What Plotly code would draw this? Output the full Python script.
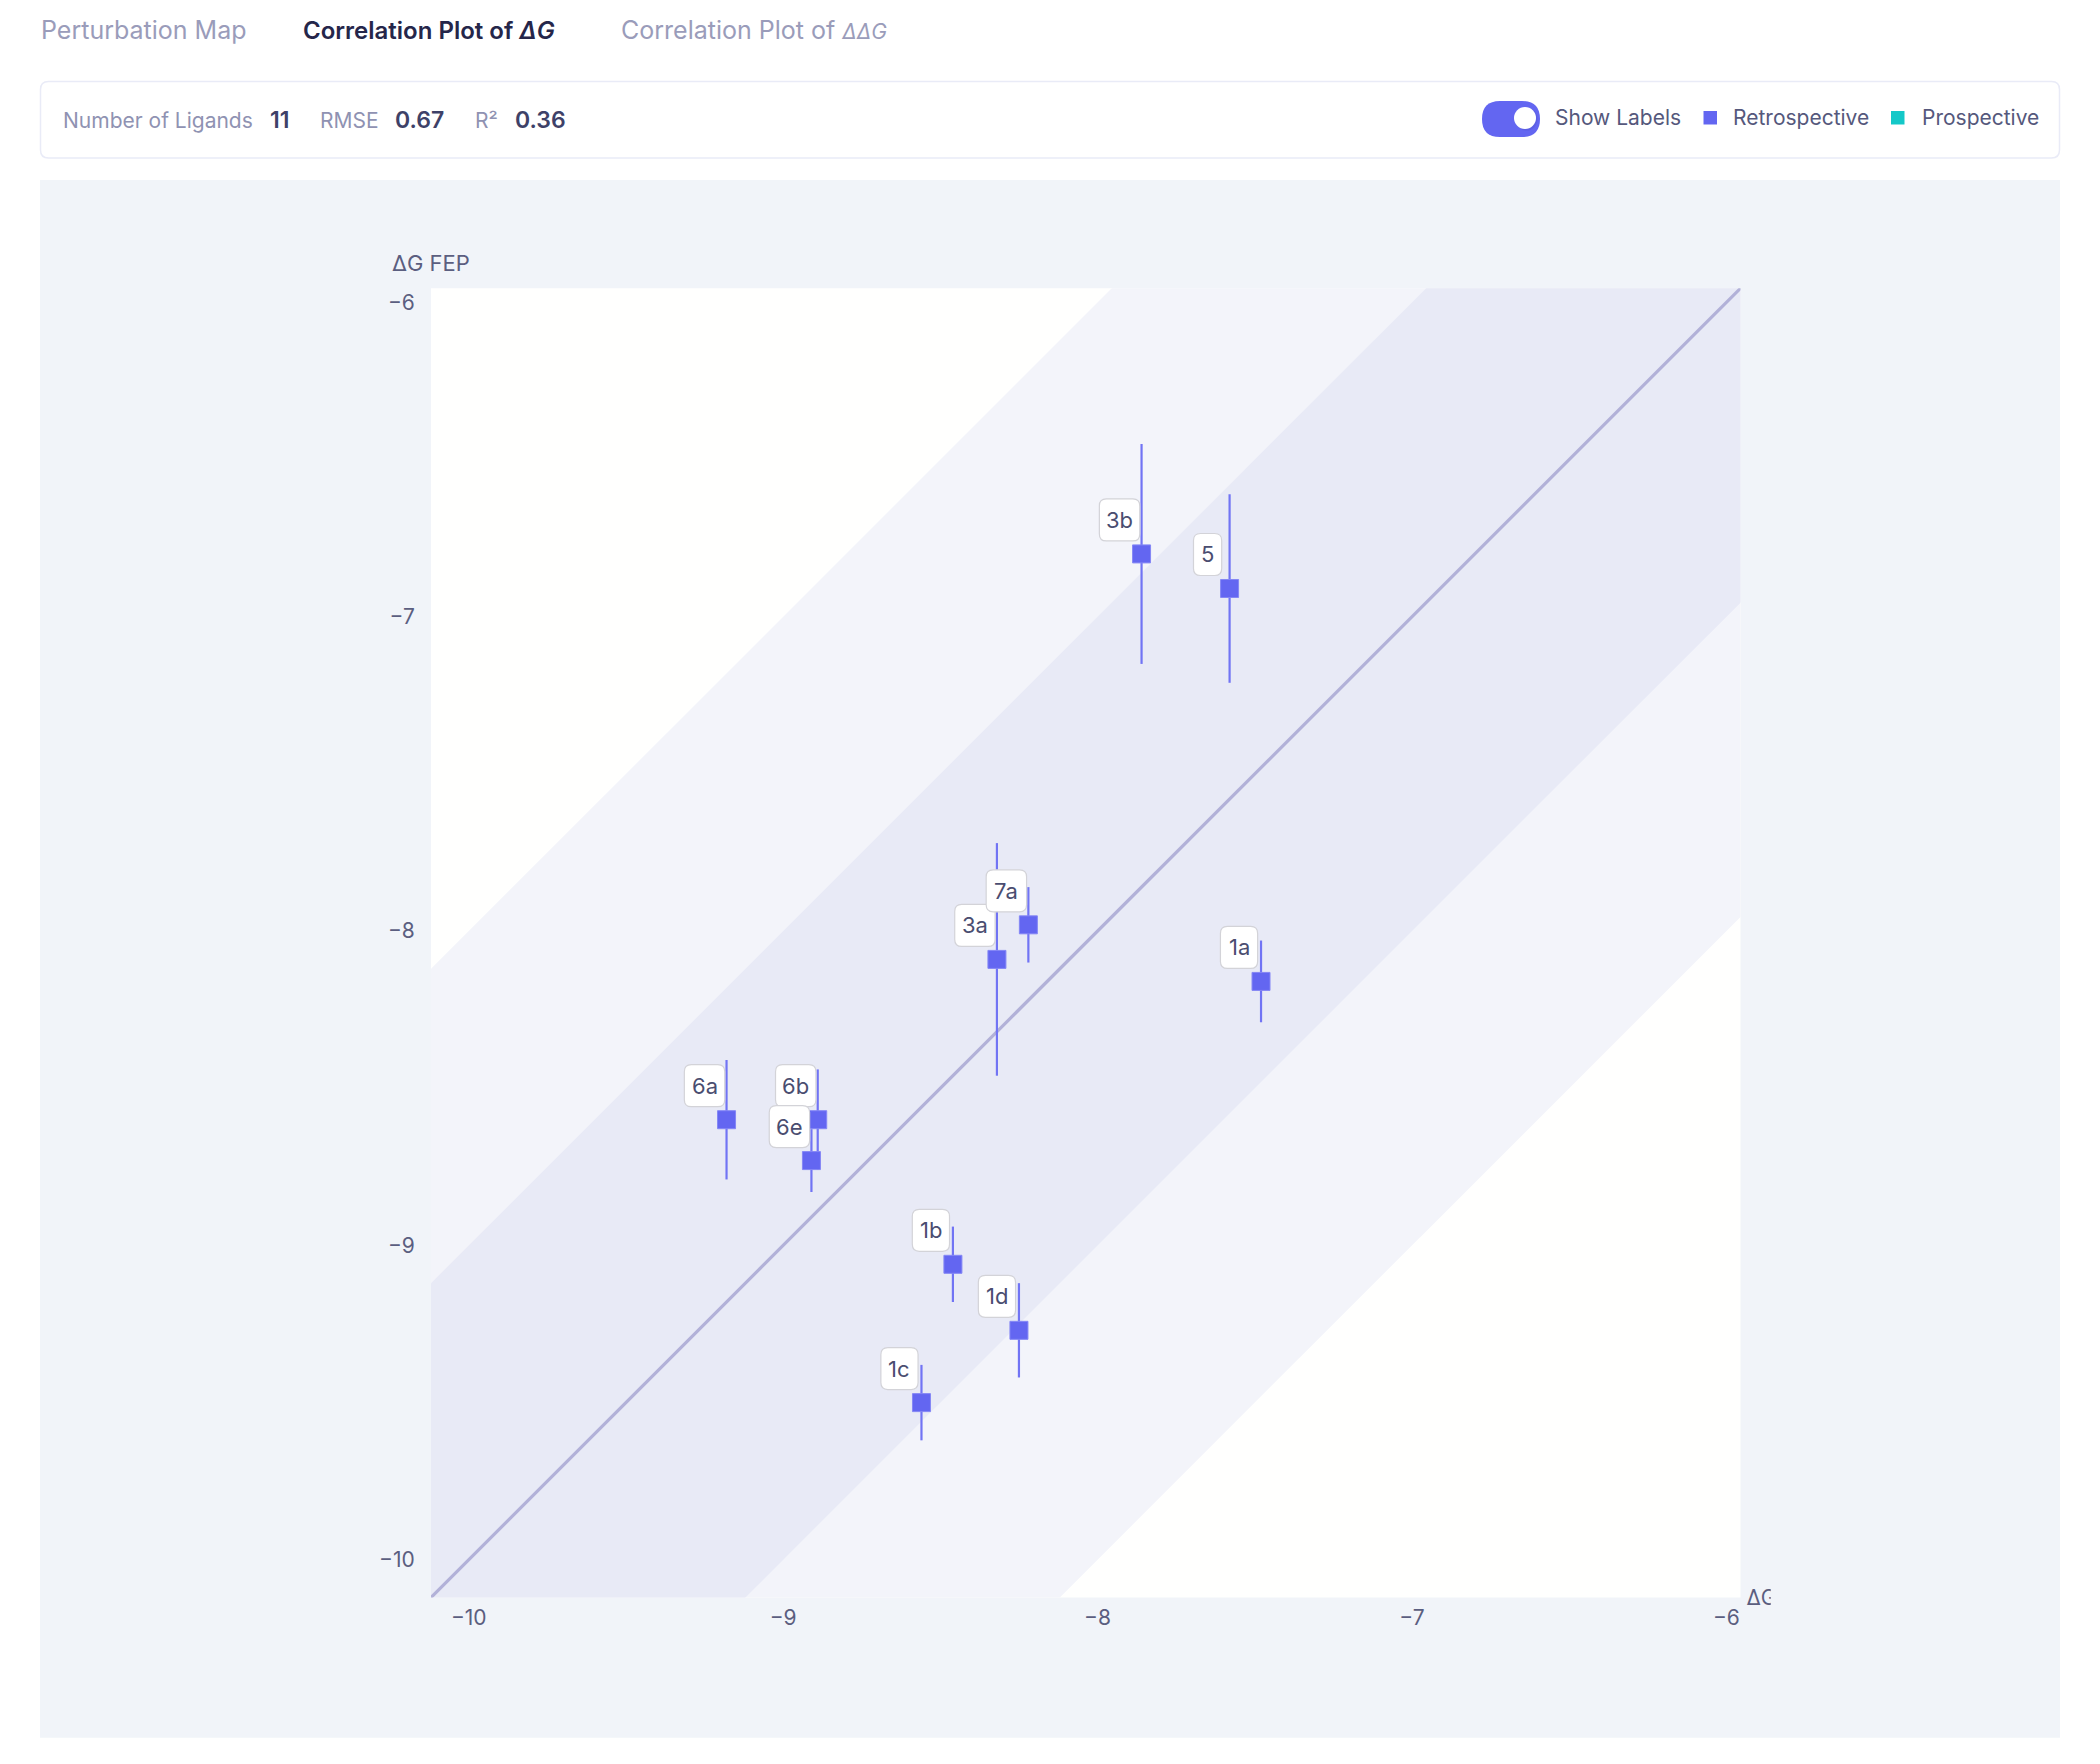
import plotly.graph_objects as go

# ---------------- data ----------------
ligand_labels = ["3b", "5", "3a", "7a", "1a", "6a", "6b", "6e", "1b", "1d", "1c"]
dg_exp = [-7.86, -7.58, -8.32, -8.22, -7.48, -9.18, -8.89, -8.91, -8.46, -8.25, -8.56]
dg_fep = [-6.80, -6.91, -8.09, -7.98, -8.16, -8.60, -8.60, -8.73, -9.06, -9.27, -9.50]
dg_fep_err = [0.35, 0.30, 0.37, 0.12, 0.13, 0.19, 0.16, 0.10, 0.12, 0.15, 0.12]
tick_values = [-10, -9, -8, -7, -6]
axis_range = [-10.12, -5.955]
band_inner = 1.0
band_outer = 2.0
n_ligands = "11"
rmse = "0.67"
r_squared = "0.36"

# ---------------- helpers (page pixel -> paper) ----------------
W, H = 2100, 1764
OFF = 8  # default page body margin
def fx(x):
    return (x - OFF) / W
def fy(y):
    return 1 - (y - OFF) / H

def rrect(x0, y0, x1, y1, r):
    pts = [
        ("M", [(x0 + r, y0)]), ("L", [(x1 - r, y0)]), ("Q", [(x1, y0), (x1, y0 + r)]),
        ("L", [(x1, y1 - r)]), ("Q", [(x1, y1), (x1 - r, y1)]), ("L", [(x0 + r, y1)]),
        ("Q", [(x0, y1), (x0, y1 - r)]), ("L", [(x0, y0 + r)]), ("Q", [(x0, y0), (x0 + r, y0)]),
    ]
    s = ""
    for cmd, ps in pts:
        s += cmd + " " + " ".join(f"{fx(a):.6f},{fy(b):.6f}" for a, b in ps) + " "
    return s + "Z"

def pix_rrect(cx, cy, w, h, r):
    # rounded rectangle in pixel offsets (y up) relative to a data anchor
    x0, x1, y0, y1 = cx - w / 2, cx + w / 2, cy - h / 2, cy + h / 2
    return (f"M {x0 + r},{y1} L {x1 - r},{y1} Q {x1},{y1} {x1},{y1 - r} "
            f"L {x1},{y0 + r} Q {x1},{y0} {x1 - r},{y0} L {x0 + r},{y0} "
            f"Q {x0},{y0} {x0},{y0 + r} L {x0},{y1 - r} Q {x0},{y1} {x0 + r},{y1} Z")

def label_width(s):
    return 16 + sum(9 if c == "1" else 12.2 for c in s)

FONT = "Inter, Noto Sans, sans-serif"
PURPLE = "#6366F1"
TEAL = "#14C8C8"

lo, hi = axis_range
ext = 5.0

fig = go.Figure()

def band(d, color):
    xs = [lo - ext, hi + ext, hi + ext, lo - ext]
    ys = [lo - ext - d, hi + ext - d, hi + ext + d, lo - ext + d]
    fig.add_trace(go.Scatter(x=xs, y=ys, fill="toself", fillcolor=color, mode="lines",
                             line=dict(width=0), hoverinfo="skip", showlegend=False))

band(band_outer, "#f3f4fa")
band(band_inner, "#e8eaf6")

fig.add_trace(go.Scatter(x=[lo - ext, hi + ext], y=[lo - ext, hi + ext], mode="lines",
                         line=dict(color="#b2b1d8", width=3.2), hoverinfo="skip", showlegend=False))

fig.add_trace(go.Scatter(
    x=dg_exp, y=dg_fep, mode="markers",
    marker=dict(symbol="square", size=18, color=PURPLE, line=dict(width=1, color="#8587f5")),
    error_y=dict(type="data", array=dg_fep_err, visible=True, color="#7174f4", thickness=2.2, width=0),
    text=ligand_labels, showlegend=False))

# clipped x-axis title (cut off at the chart container edge, as in the reference)
fig.add_trace(go.Scatter(x=[6], y=[0.5], mode="text", text=["ΔG EXP"], textposition="middle right",
                         textfont=dict(family=FONT, size=21, color="#5b5e80"),
                         xaxis="x2", yaxis="y2", cliponaxis=True, hoverinfo="skip", showlegend=False))

plot_l, plot_r, plot_t, plot_b = 431, 1740.5, 288.3, 1597.5

fig.update_layout(
    width=W, height=H, margin=dict(l=0, r=0, t=0, b=0, pad=0),
    paper_bgcolor="white", plot_bgcolor="rgba(0,0,0,0)",
    font=dict(family=FONT, color="#5b5e80"),
    xaxis=dict(domain=[fx(plot_l), fx(plot_r)], range=axis_range, tickvals=tick_values,
               showgrid=False, zeroline=False, showline=False, ticks="outside", ticklen=1,
               tickcolor="rgba(0,0,0,0)", tickfont=dict(size=21, color="#5b5e80")),
    yaxis=dict(domain=[fy(plot_b), fy(plot_t)], range=axis_range, tickvals=tick_values,
               showgrid=False, zeroline=False, showline=False, ticks="outside", ticklen=11,
               tickcolor="rgba(0,0,0,0)", tickfont=dict(size=21, color="#5b5e80")),
    xaxis2=dict(domain=[fx(plot_r), fx(1770.7)], range=[0, 30.2], visible=False, anchor="y2"),
    yaxis2=dict(domain=[fy(1622), fy(1578)], range=[0, 1], visible=False, anchor="x2"),
    showlegend=False, hovermode="closest",
)

shapes = []
# chart container background
shapes.append(dict(type="rect", xref="paper", yref="paper", x0=fx(40), x1=fx(2060), y0=fy(1737.7), y1=fy(180),
                   fillcolor="#f1f4f9", line=dict(width=0), layer="below"))
# white plot area
shapes.append(dict(type="rect", xref="x domain", yref="y domain", x0=0, x1=1, y0=0, y1=1,
                   fillcolor="#fffffe", line=dict(width=0), layer="below"))
# stats card
shapes.append(dict(type="path", xref="paper", yref="paper", path=rrect(40.5, 81.5, 2059.5, 158, 8),
                   fillcolor="white", line=dict(color="#e9ebf7", width=1.5), layer="below"))
# toggle
shapes.append(dict(type="path", xref="paper", yref="paper", path=rrect(1482, 101, 1540, 137, 18),
                   fillcolor=PURPLE, line=dict(width=0), layer="above"))
shapes.append(dict(type="circle", xref="paper", yref="paper", x0=fx(1515.5), x1=fx(1537.5), y0=fy(130.5), y1=fy(107.5),
                   fillcolor="#5658d8", line=dict(width=0), opacity=0.5, layer="above"))
shapes.append(dict(type="circle", xref="paper", yref="paper", x0=fx(1514), x1=fx(1536), y0=fy(129), y1=fy(107),
                   fillcolor="white", line=dict(width=0), layer="above"))
# legend squares
shapes.append(dict(type="rect", xref="paper", yref="paper", x0=fx(1703.5), x1=fx(1717), y0=fy(124.5), y1=fy(111),
                   fillcolor=PURPLE, line=dict(width=0)))
shapes.append(dict(type="rect", xref="paper", yref="paper", x0=fx(1891), x1=fx(1904.5), y0=fy(124.5), y1=fy(111),
                   fillcolor=TEAL, line=dict(width=0)))

# rounded label boxes anchored at each point
LBL_DX, LBL_DY = -22, 34
for lab, xv, yv in zip(ligand_labels, dg_exp, dg_fep):
    shapes.append(dict(type="path", xref="x", yref="y", xsizemode="pixel", ysizemode="pixel",
                       xanchor=xv, yanchor=yv, path=pix_rrect(LBL_DX, LBL_DY, label_width(lab), 42, 7),
                       fillcolor="white", line=dict(color="#d3d3d8", width=1.2), layer="above"))
fig.update_layout(shapes=shapes)

ann = []
def text(x, y, s, size, color, anchor="left", weight="normal"):
    ann.append(dict(xref="paper", yref="paper", x=fx(x), y=fy(y), text=s, showarrow=False,
                    xanchor=anchor, yanchor="middle",
                    font=dict(family=FONT, size=size, color=color, weight=weight)))

# tabs
text(39, 30, "Perturbation Map", 25, "#9a9cba")
text(301, 30, "Correlation Plot of <i>ΔG</i>", 24, "#25264a", weight=600)
text(619, 30, "Correlation Plot of <i><span style='font-size:21px'>ΔΔG</span></i>", 25, "#9a9cba")

# stats
text(61, 120.5, "Number of Ligands", 21, "#8f92b2")
text(268, 119.5, n_ligands, 23, "#3e4168", weight=600)
text(318, 120.5, "RMSE", 21, "#8f92b2")
text(393, 119.5, rmse, 23, "#3e4168", weight=600)
text(473, 120.5, "R²", 21, "#8f92b2")
text(513, 119.5, r_squared, 23, "#3e4168", weight=600)

# toggle + legend texts
text(1553, 117, "Show Labels", 21, "#55587c")
text(1731, 117, "Retrospective", 21, "#55587c")
text(1920, 117, "Prospective", 21, "#55587c")

# y axis title
text(390, 263, "ΔG FEP", 22, "#5b5e80")

# point labels
for lab, xv, yv in zip(ligand_labels, dg_exp, dg_fep):
    ann.append(dict(x=xv, y=yv, xref="x", yref="y", text=lab, showarrow=False,
                    xshift=LBL_DX, yshift=LBL_DY, xanchor="center", yanchor="middle",
                    font=dict(family=FONT, size=22, color="#4a4d70")))

fig.update_layout(annotations=ann)

fig.write_html("out.html")
